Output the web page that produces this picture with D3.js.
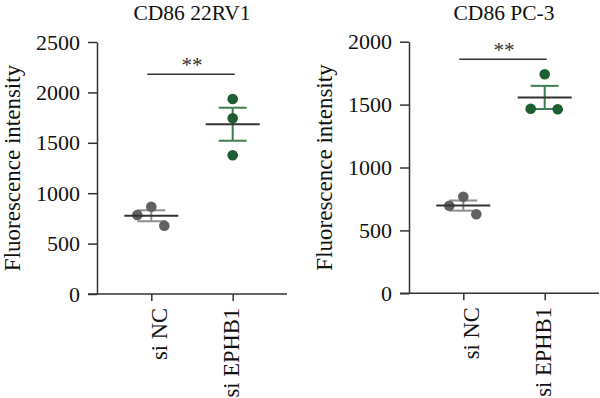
<!DOCTYPE html>
<html lang="en">
  <head>
    <meta charset="UTF-8" />
    <title>CD86 fluorescence intensity</title>
    <script src="https://cdn.jsdelivr.net/npm/d3@7"></script>
    <style>
      body { margin: 0; background: #fff; }
      text { font-family: 'Liberation Serif', 'DejaVu Serif', serif; fill: #111; }
    </style>
  </head>
  <body>
    <script>
      // Data
      const groups = ['si NC', 'si EPHB1'];
      const rv1NC = [784, 866, 678];
      const rv1EPHB1 = [1934, 1743, 1376];
      const pc3NC = [696, 768, 628];
      const pc3EPHB1 = [1741, 1467, 1463];
      const rv1Ticks = [0, 500, 1000, 1500, 2000, 2500];
      const pc3Ticks = [0, 500, 1000, 1500, 2000];
      const rv1Sig = 2180;
      const pc3Sig = 1860;

      const width = 600;
      const height = 398;

      const svg = d3.select('body').append('svg')
        .attr('width', width)
        .attr('height', height);

      const pointColor = ['#616161', '#1d5e32'];
      const semColor = ['#8e8e8e', '#3f7f4f'];

      const drawPanel = (opt) => {
        const g = svg.append('g').attr('transform', `translate(${opt.left},0)`);
        const innerW = 190;

        const x = d3.scalePoint().domain(groups).range([0, innerW]).padding(0.667);
        const y = d3.scaleLinear().domain([0, d3.max(opt.ticks)]).range([opt.bottom, opt.top]);

        // y axis
        const yAxis = g.append('g')
          .call(d3.axisLeft(y).tickValues(opt.ticks).tickFormat(d3.format('d'))
            .tickSize(9).tickSizeOuter(0).tickPadding(8));
        yAxis.selectAll('text').style('font-size', '22px');

        // x axis
        const xAxis = g.append('g')
          .attr('transform', `translate(0,${opt.bottom})`)
          .call(d3.axisBottom(x).tickSize(7).tickSizeOuter(0));
        xAxis.selectAll('text')
          .style('font-size', '22.5px')
          .attr('text-anchor', 'end')
          .attr('transform', 'rotate(-90)')
          .attr('x', -14)
          .attr('y', (d, i) => (i === 0 ? 15 : 5.5))
          .attr('dy', 0);
        // stretch the x domain line to the panel edge
        xAxis.select('.domain').attr('d', `M-9,0H${innerW}`);

        g.selectAll('.domain, .tick line')
          .attr('stroke', '#333')
          .attr('stroke-width', 1.5);

        // title
        g.append('text')
          .attr('x', innerW / 2)
          .attr('y', 20)
          .attr('text-anchor', 'middle')
          .style('font-size', '21.5px')
          .text(opt.title);

        // y axis label
        g.append('text')
          .attr('transform', `translate(-77,${(opt.top + opt.bottom) / 2}) rotate(-90)`)
          .attr('text-anchor', 'middle')
          .style('font-size', '23px')
          .text('Fluorescence intensity');

        // groups: SEM bars, points, mean line
        opt.series.forEach((vals, i) => {
          const cx = x(groups[i]);
          const m = d3.mean(vals);
          const sem = d3.deviation(vals) / Math.sqrt(vals.length);
          const sg = g.append('g');

          sg.append('line')
            .attr('x1', cx).attr('x2', cx)
            .attr('y1', y(m + sem)).attr('y2', y(m - sem))
            .attr('stroke', semColor[i]).attr('stroke-width', 2);
          [m + sem, m - sem].forEach((v) => {
            sg.append('line')
              .attr('x1', cx - 14).attr('x2', cx + 14)
              .attr('y1', y(v)).attr('y2', y(v))
              .attr('stroke', semColor[i]).attr('stroke-width', 2);
          });

          sg.selectAll('circle')
            .data(vals)
            .enter()
            .append('circle')
            .attr('cx', (d, j) => cx + opt.jitter[i][j])
            .attr('cy', (d) => y(d))
            .attr('r', 5.3)
            .attr('fill', pointColor[i]);

          sg.append('line')
            .attr('x1', cx - 27).attr('x2', cx + 27)
            .attr('y1', y(m)).attr('y2', y(m))
            .attr('stroke', '#333').attr('stroke-width', 2);
        });

        // significance bar
        g.append('line')
          .attr('x1', x(groups[0]) - 4).attr('x2', x(groups[1]) + 2)
          .attr('y1', y(opt.sig)).attr('y2', y(opt.sig))
          .attr('stroke', '#333').attr('stroke-width', 1.5);
        g.append('text')
          .attr('x', (x(groups[0]) + x(groups[1])) / 2)
          .attr('y', y(opt.sig) - 2)
          .attr('text-anchor', 'middle')
          .style('font-size', '21px')
          .style('fill', '#333')
          .text('**');
      };

      drawPanel({
        left: 97, top: 42, bottom: 294,
        ticks: rv1Ticks, title: 'CD86 22RV1', sig: rv1Sig,
        series: [rv1NC, rv1EPHB1],
        jitter: [[-14, 0, 13], [0, 0, 0]]
      });

      drawPanel({
        left: 409, top: 41.7, bottom: 293.3,
        ticks: pc3Ticks, title: 'CD86 PC-3', sig: pc3Sig,
        series: [pc3NC, pc3EPHB1],
        jitter: [[-14, 0, 13], [0, -14, 13]]
      });
    </script>
  </body>
</html>
